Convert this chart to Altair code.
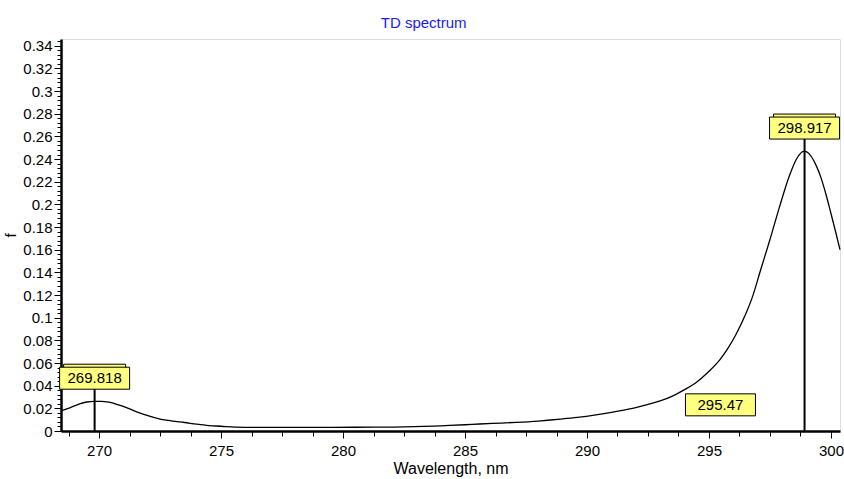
import altair as alt
import pandas as pd

# ---- spectrum curve ----
wavelength = [268.44, 268.8, 269.2, 269.5, 269.8, 270.1, 270.4, 270.8, 271.2, 271.6,
              272.0, 272.5, 273.0, 273.5, 274.0, 274.5, 275.0, 275.6, 276.5, 277.5,
              278.5, 279.5, 280.5, 281.5, 282.5, 283.3, 284.0, 285.0, 285.6, 286.5,
              287.1, 288.0, 288.5, 289.0, 289.7, 290.3, 291.0, 291.5, 292.0, 292.5,
              293.0, 293.5, 294.0, 294.5, 295.0, 295.45, 295.8, 296.1, 296.5, 296.8,
              297.1, 297.5, 297.9, 298.3, 298.6, 298.9, 299.15, 299.4, 299.6, 299.8,
              300.0, 300.2, 300.37]
f_values = [0.0177, 0.0205, 0.0240, 0.0256, 0.0262, 0.0262, 0.0254, 0.0230, 0.0200, 0.0165,
            0.0135, 0.0105, 0.0088, 0.0075, 0.0060, 0.0048, 0.0042, 0.0034, 0.0032, 0.0032,
            0.0032, 0.0032, 0.0033, 0.0034, 0.0036, 0.0040, 0.0046, 0.0055, 0.0062, 0.0070,
            0.0076, 0.0088, 0.0097, 0.0107, 0.0122, 0.0140, 0.0165, 0.0185, 0.0207, 0.0234,
            0.0265, 0.0308, 0.0365, 0.0432, 0.0527, 0.0630, 0.0738, 0.0850, 0.1030, 0.1195,
            0.1410, 0.1690, 0.1985, 0.2255, 0.2405, 0.2470, 0.2435, 0.2340, 0.2230, 0.2085,
            0.1920, 0.1750, 0.1600]

# ---- peak labels ----
label_x = [269.818, 298.917, 295.47]
label_text = ["269.818", "298.917", "295.47"]
label_level = [0.0466, 0.2674, 0.0231]
has_marker = [True, True, False]

# ---- axis ticks ----
x_major = [270, 275, 280, 285, 290, 295, 300]
x_minor = [round(268.75 + 1.25 * i, 2) for i in range(26)]
y_major = [0, 0.02, 0.04, 0.06, 0.08, 0.1, 0.12, 0.14, 0.16, 0.18, 0.2,
           0.22, 0.24, 0.26, 0.28, 0.3, 0.32, 0.34]
y_minor = [round(0.004 * i, 3) for i in range(87)]

X_DOMAIN = [268.44, 300.37]
Y_DOMAIN = [0, 0.346]
FONT = "Liberation Sans"

curve = pd.DataFrame({"wl": wavelength, "f": f_values})
labels = pd.DataFrame({"wl": label_x, "text": label_text, "lvl": label_level,
                       "marker": has_marker, "zero": [0.0] * len(label_x)})
markers = labels[labels["marker"]]

xs = alt.Scale(domain=X_DOMAIN, nice=False, zero=False)
ys = alt.Scale(domain=Y_DOMAIN, nice=False)

common_axis = dict(domainColor="black", domainWidth=2.5, tickColor="black", tickWidth=1,
                   labelColor="black", labelFont=FONT, labelFontSize=15, grid=False,
                   titleFont=FONT, titleFontWeight="normal", titleColor="black")

main = alt.Chart(curve).mark_line(color="black", strokeWidth=1.3, interpolate="monotone").encode(
    x=alt.X("wl:Q", scale=xs, axis=alt.Axis(orient="bottom", values=x_major, tickSize=7,
                                             labelPadding=5, title="Wavelength, nm",
                                             titleFontSize=16, titlePadding=2, **common_axis)),
    y=alt.Y("f:Q", scale=ys, axis=alt.Axis(orient="left", values=y_major, tickSize=7, format="~g",
                                            labelPadding=2, title="f", titleFontSize=15,
                                            titlePadding=4, **common_axis)),
)

minor = alt.Chart(curve).mark_line(opacity=0).encode(
    x=alt.X("wl:Q", scale=xs, axis=alt.Axis(orient="bottom", values=x_minor, tickSize=5,
                                             labels=False, domain=False, title=None,
                                             tickColor="black", tickWidth=1, grid=False)),
    y=alt.Y("f:Q", scale=ys, axis=alt.Axis(orient="left", values=y_minor, tickSize=4,
                                            labels=False, domain=False, title=None,
                                            tickColor="black", tickWidth=1, grid=False)),
)

rules = alt.Chart(markers).mark_rule(color="black", strokeWidth=2).encode(
    x=alt.X("wl:Q", scale=xs, axis=None),
    y=alt.Y("zero:Q", scale=ys, axis=None),
    y2="lvl:Q",
)

back_box = alt.Chart(markers).mark_point(
    shape="M-31,-14H31V8H-31Z", size=4, filled=True, fill="#ffff80",
    stroke="black", strokeWidth=1, opacity=1,
).encode(
    x=alt.X("wl:Q", scale=xs, axis=None),
    y=alt.Y("lvl:Q", scale=ys, axis=None),
)

front_box = alt.Chart(labels).mark_point(
    shape="M-35,-11H35V11H-35Z", size=4, filled=True, fill="#ffff80",
    stroke="black", strokeWidth=1, opacity=1,
).encode(
    x=alt.X("wl:Q", scale=xs, axis=None),
    y=alt.Y("lvl:Q", scale=ys, axis=None),
)

texts = alt.Chart(labels).mark_text(font=FONT, fontSize=15, color="black",
                                     align="center", baseline="middle").encode(
    x=alt.X("wl:Q", scale=xs, axis=None),
    y=alt.Y("lvl:Q", scale=ys, axis=None),
    text="text:N",
)

chart = alt.layer(main, minor, rules, back_box, front_box, texts).resolve_axis(
    x="independent", y="independent"
).properties(
    width=779, height=392,
    title=alt.Title("TD spectrum", color="#1a1aee", fontSize=15, fontWeight="normal",
                    font=FONT, anchor="middle", frame="bounds", offset=8),
    autosize=alt.AutoSizeParams(type="none"),
    padding={"left": 61, "top": 39, "right": 4, "bottom": 48},
).configure_view(stroke=None).configure(background="white")

chart.save("out.html", embed_options={"renderer": "svg", "actions": False})
